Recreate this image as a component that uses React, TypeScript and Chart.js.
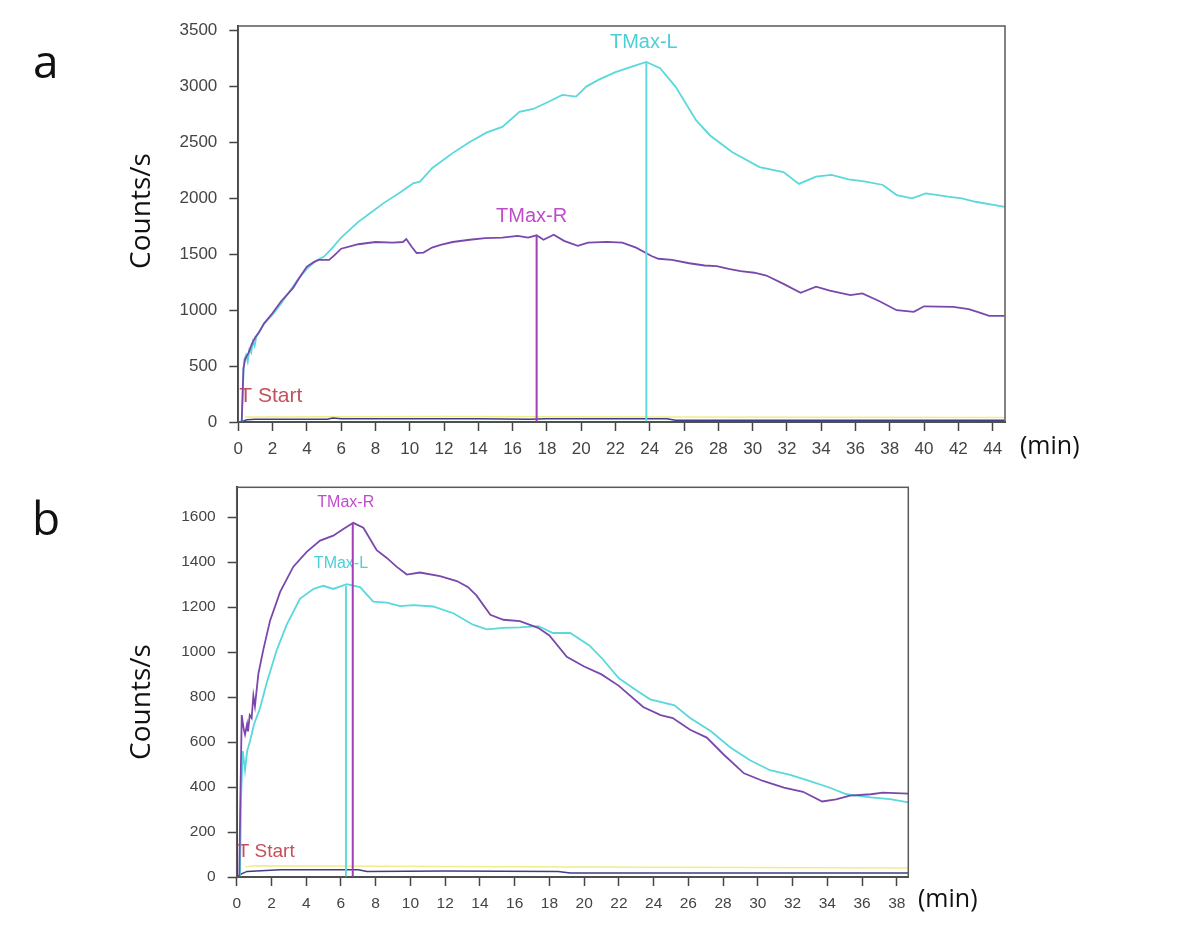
import React, { useEffect, useRef } from 'react';
import { Chart, registerables } from 'chart.js';

Chart.register(...registerables);

type P = [number, number];

// ---------- Panel a data (time in min, counts/s) ----------
const aLeft: P[] = [
  [0.2, 0], [0.3, 450], [0.35, 560], [0.45, 600], [0.55, 540], [0.65, 650], [0.75, 620], [0.85, 720],
  [0.95, 680], [1.05, 760], [1.2, 800], [1.5, 880], [2, 960], [2.5, 1060], [3, 1170], [3.5, 1280],
  [4, 1370], [4.5, 1440], [5, 1480], [5.5, 1560], [6, 1650], [7, 1790], [7.7, 1870], [8.5, 1960],
  [9.5, 2060], [10.2, 2135], [10.6, 2150], [11.3, 2270], [12.5, 2405], [13.5, 2505], [14.5, 2590],
  [15.4, 2640], [16.4, 2775], [17.2, 2800], [18.1, 2865], [18.9, 2925], [19.7, 2910], [20.3, 3000],
  [21, 3060], [22, 3130], [23, 3180], [23.8, 3220], [24.6, 3165], [25.5, 3000], [26.7, 2700],
  [27.5, 2565], [28.8, 2415], [30.4, 2280], [31.8, 2235], [32.7, 2130], [33.7, 2195], [34.6, 2210],
  [35.6, 2170], [36.6, 2150], [37.6, 2120], [38.4, 2030], [39.3, 2000], [40.1, 2045], [41.4, 2015],
  [42.2, 2000], [43, 1970], [44.7, 1925],
];
const aRight: P[] = [
  [0.2, 0], [0.3, 480], [0.4, 560], [0.6, 620], [0.8, 700], [1.0, 760], [1.2, 800], [1.5, 880],
  [2, 975], [2.5, 1080], [3.2, 1200], [3.6, 1300], [4, 1390], [4.4, 1430], [4.7, 1450], [5.3, 1450],
  [5.6, 1490], [6, 1550], [7, 1590], [8, 1610], [9, 1605], [9.6, 1610], [9.8, 1636], [10.1, 1570],
  [10.4, 1512], [10.8, 1515], [11.3, 1560], [11.8, 1585], [12.5, 1610], [13.5, 1630], [14.4, 1645],
  [15.4, 1650], [16.3, 1665], [16.9, 1650], [17.4, 1670], [17.8, 1630], [18.4, 1675], [19.0, 1620],
  [19.8, 1575], [20.4, 1605], [21.5, 1612], [22.4, 1605], [23.2, 1560], [24.1, 1485], [24.5, 1460],
  [25.3, 1450], [26.3, 1420], [27.2, 1400], [27.9, 1395], [28.6, 1370], [29.3, 1350], [30.1, 1335],
  [30.8, 1310], [31.8, 1235], [32.8, 1155], [33.7, 1210], [34.5, 1175], [35.7, 1135], [36.4, 1150],
  [37.4, 1080], [38.4, 1000], [39.4, 985], [40, 1035], [41.7, 1030], [42.6, 1010], [43.2, 980],
  [43.8, 950], [44.7, 950],
];
const aBaseline: P[] = [
  [0, 0], [0.3, 10], [0.5, 20], [1, 25], [3, 25], [5.2, 25], [5.5, 35], [6, 30], [10, 28], [14, 30],
  [17, 25], [18, 30], [25, 30], [25.5, 15], [44.7, 15],
];
const aYellow: P[] = [[0.4, 45], [12, 50], [25, 45], [44.7, 40]];
const aTmaxL: P[] = [[23.8, 0], [23.8, 3220]];
const aTmaxR: P[] = [[17.4, 0], [17.4, 1670]];
const aXTicks = [0, 2, 4, 6, 8, 10, 12, 14, 16, 18, 20, 22, 24, 26, 28, 30, 32, 34, 36, 38, 40, 42, 44];
const aYTicks = [0, 500, 1000, 1500, 2000, 2500, 3000, 3500];

// ---------- Panel b data ----------
const bRight: P[] = [
  [0.15, 0], [0.2, 300], [0.29, 720], [0.4, 660], [0.48, 634], [0.6, 680], [0.65, 647], [0.75, 720],
  [0.86, 707], [0.96, 806], [1.05, 760], [1.25, 905], [1.53, 1010], [1.92, 1140], [2.5, 1268],
  [3.26, 1380], [4.03, 1446], [4.8, 1496], [5.56, 1518], [6.14, 1548], [6.71, 1575], [7.29, 1553],
  [8.06, 1453], [8.64, 1419], [9.2, 1380], [9.79, 1345], [10.55, 1354], [11.7, 1338], [12.67, 1316],
  [13.3, 1290], [13.8, 1252], [14.6, 1166], [15.35, 1144], [16.3, 1138], [17.35, 1108], [18, 1074],
  [19, 979], [20, 936], [21, 901], [22, 850], [23.4, 756], [24.4, 720], [25.1, 707], [26.1, 655],
  [27.06, 620], [28, 547], [29.2, 461], [30.3, 427], [31.5, 397], [32.6, 379], [33.7, 336],
  [34.5, 345], [35.3, 362], [36.5, 368], [37.2, 375], [38.66, 371],
];
const bLeft: P[] = [
  [0.19, 0], [0.25, 350], [0.35, 560], [0.48, 475], [0.6, 560], [0.77, 605], [1.0, 680], [1.34, 750],
  [1.73, 864], [2.3, 1008], [2.88, 1122], [3.64, 1237], [4.41, 1281], [4.99, 1295], [5.56, 1281],
  [6.33, 1302], [7.1, 1289], [7.86, 1225], [8.64, 1220], [9.4, 1205], [10.17, 1209], [11.3, 1203],
  [12.47, 1173], [13.6, 1122], [14.4, 1101], [15.35, 1108], [16.3, 1110], [17.36, 1116], [18.2, 1085],
  [19.2, 1085], [20.3, 1030], [21, 975], [22, 884], [23, 830], [23.8, 790], [25.2, 763], [26.1, 707],
  [27.3, 648], [28.4, 577], [29.55, 519], [30.7, 475], [31.86, 454], [33, 426], [34.15, 397],
  [35.1, 368], [36.5, 354], [37.6, 346], [38.66, 332],
];
const bBaseline: P[] = [
  [0, 0], [0.3, 15], [0.6, 25], [2.5, 32], [7, 32], [7.5, 25], [12, 27], [18.5, 24], [19.2, 18], [38.66, 18],
];
const bYellow: P[] = [[0.5, 45], [1, 50], [20, 45], [38.66, 40]];
const bTmaxL: P[] = [[6.29, 0], [6.29, 1295]];
const bTmaxR: P[] = [[6.68, 0], [6.68, 1575]];
const bXTicks = [0, 2, 4, 6, 8, 10, 12, 14, 16, 18, 20, 22, 24, 26, 28, 30, 32, 34, 36, 38];
const bYTicks = [0, 200, 400, 600, 800, 1000, 1200, 1400, 1600];

// ---------- colours ----------
const CYAN = '#5ad8dc';
const PURPLE = '#7a48ad';
const VLINE_R = '#a23fb6';
const VLINE_L = '#62dae0';
const TEXT_L = '#4ccfd6';
const TEXT_R = '#c04ccc';
const TEXT_START = '#c4505c';
const BASE = '#3a3f86';
const YELLOW = '#f2ec8a';

interface Spec {
  tag: string;
  canvasH: number;
  xMax: number;
  yMax: number;
  xTicks: number[];
  yTicks: number[];
  left: P[];
  right: P[];
  base: P[];
  yellow: P[];
  tmaxL: P[];
  tmaxR: P[];
  area: { left: number; top: number; right: number; bottom: number };
  tickFont: number;
  markFont: number;
  lOff: [number, number];
  rOff: [number, number];
  startFont: number;
  startY: number;
  minPos: [number, number];
  titlePos: [number, number];
  tagPos: [number, number];
}

const specA: Spec = {
  tag: 'a', canvasH: 466, xMax: 44.72, yMax: 3542, xTicks: aXTicks, yTicks: aYTicks,
  left: aLeft, right: aRight, base: aBaseline, yellow: aYellow, tmaxL: aTmaxL, tmaxR: aTmaxR,
  area: { left: 238.3, top: 26, right: 1005, bottom: 422 },
  tickFont: 17, markFont: 20, lOff: [-2.5, -14], rOff: [-5, -13],
  startFont: 21, startY: 402, minPos: [1020, 447], titlePos: [150, 211], tagPos: [33, 78],
};
const specB: Spec = {
  tag: 'b', canvasH: 462, xMax: 38.66, yMax: 1733, xTicks: bXTicks, yTicks: bYTicks,
  left: bLeft, right: bRight, base: bBaseline, yellow: bYellow, tmaxL: bTmaxL, tmaxR: bTmaxR,
  area: { left: 236.7, top: 9, right: 908.3, bottom: 411 },
  tickFont: 15.5, markFont: 16, lOff: [-5, -18], rOff: [-7, -16],
  startFont: 19, startY: 391, minPos: [918, 434], titlePos: [150, 236], tagPos: [32, 69],
};

const toPts = (arr: P[]) => arr.map(([x, y]) => ({ x, y }));

function makeOverlay(s: Spec) {
  return {
    id: 'overlay_' + s.tag,
    beforeDatasetsDraw(chart: any) {
      const { ctx, scales } = chart;
      const xs = scales.x;
      const ys = scales.y;
      ctx.save();
      ctx.textAlign = 'center';
      ctx.textBaseline = 'alphabetic';
      ctx.font = `${s.markFont}px "Liberation Sans"`;
      ctx.fillStyle = TEXT_L;
      ctx.fillText('TMax-L', xs.getPixelForValue(s.tmaxL[1][0]) + s.lOff[0], ys.getPixelForValue(s.tmaxL[1][1]) + s.lOff[1]);
      ctx.fillStyle = TEXT_R;
      ctx.fillText('TMax-R', xs.getPixelForValue(s.tmaxR[1][0]) + s.rOff[0], ys.getPixelForValue(s.tmaxR[1][1]) + s.rOff[1]);
      ctx.textAlign = 'left';
      ctx.font = `${s.startFont}px "Liberation Sans"`;
      ctx.fillStyle = TEXT_START;
      ctx.fillText('T Start', chart.chartArea.left + 1, s.startY);
      ctx.restore();
    },
    afterDraw(chart: any) {
      const { ctx, chartArea: ca } = chart;
      ctx.save();
      ctx.strokeStyle = '#5a5a5a';
      ctx.lineWidth = 1.5;
      ctx.strokeRect(ca.left, ca.top, ca.right - ca.left, ca.bottom - ca.top);
      ctx.fillStyle = '#111';
      ctx.font = '25px "Open Sans"';
      ctx.textAlign = 'left';
      ctx.textBaseline = 'middle';
      ctx.fillText('(min)', s.minPos[0], s.minPos[1]);
      ctx.save();
      ctx.translate(s.titlePos[0], s.titlePos[1]);
      ctx.rotate(-Math.PI / 2);
      ctx.textAlign = 'center';
      ctx.textBaseline = 'alphabetic';
      ctx.font = '28px "Open Sans"';
      ctx.fillText('Counts/s', 0, 0);
      ctx.restore();
      ctx.font = '46px "Open Sans"';
      ctx.textAlign = 'left';
      ctx.textBaseline = 'alphabetic';
      ctx.fillText(s.tag, s.tagPos[0], s.tagPos[1]);
      ctx.restore();
    },
  };
}

function Panel({ spec, top }: { spec: Spec; top: number }) {
  const ref = useRef<HTMLCanvasElement>(null);
  useEffect(() => {
    const s = spec;
    const axisCommon = (tickPad: number, values: number[]) => ({
      type: 'linear' as const,
      afterBuildTicks: (sc: any) => { sc.ticks = values.map((v) => ({ value: v })); },
      ticks: {
        padding: tickPad,
        color: '#444',
        font: { size: s.tickFont, family: 'Liberation Sans' },
        autoSkip: false,
        maxRotation: 0,
        callback: (v: any) => String(v),
      },
      grid: { drawOnChartArea: false, drawTicks: true, tickLength: 9, color: '#444', tickColor: '#444', tickWidth: 1.5 },
      border: { display: true, color: '#333', width: 2 },
    });
    const xAxis: any = axisCommon(8, s.xTicks);
    xAxis.min = 0;
    xAxis.max = s.xMax;
    xAxis.afterFit = (sc: any) => { sc.height = s.canvasH - s.area.bottom; };
    const yAxis: any = axisCommon(12, s.yTicks);
    yAxis.min = 0;
    yAxis.max = s.yMax;
    yAxis.afterFit = (sc: any) => { sc.width = s.area.left; };

    const line = (data: P[], color: string, width: number) => ({
      data: toPts(data),
      borderColor: color,
      backgroundColor: color,
      borderWidth: width,
      pointRadius: 0,
      tension: 0,
      fill: false,
    });

    const chart = new Chart(ref.current as HTMLCanvasElement, {
      type: 'line',
      data: {
        datasets: [
          line(s.tmaxR, VLINE_R, 2),
          line(s.tmaxL, VLINE_L, 2),
          line(s.right, PURPLE, 1.8),
          line(s.left, CYAN, 1.8),
          line(s.base, BASE, 1.5),
          line(s.yellow, YELLOW, 1.5),
        ] as any,
      },
      options: {
        responsive: false,
        animation: false,
        devicePixelRatio: 1,
        layout: { padding: { left: 0, top: s.area.top, right: 1200 - s.area.right, bottom: 0 } },
        plugins: { legend: { display: false }, tooltip: { enabled: false }, title: { display: false } },
        scales: { x: xAxis, y: yAxis },
      } as any,
      plugins: [makeOverlay(s)],
    });
    return () => chart.destroy();
  }, [spec]);
  return (
    <div style={{ position: 'absolute', left: 0, top, width: 1200, height: spec.canvasH }}>
      <canvas ref={ref} width={1200} height={spec.canvasH} style={{ display: 'block' }} />
    </div>
  );
}

export default function App() {
  return (
    <div style={{ position: 'absolute', left: 0, top: 0, width: 1200, height: 928, background: '#fff', overflow: 'hidden' }}>
      <Panel spec={specA} top={0} />
      <Panel spec={specB} top={466} />
    </div>
  );
}
